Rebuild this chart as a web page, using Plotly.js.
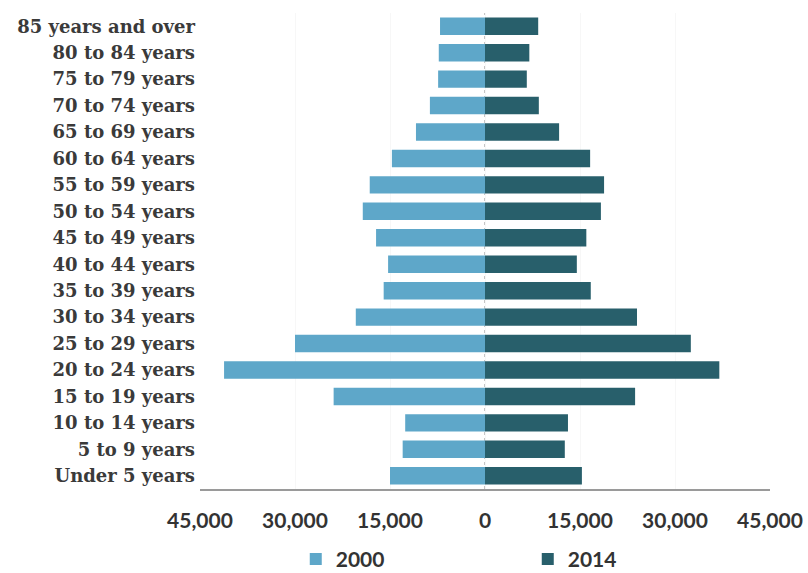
<!DOCTYPE html>
<html>
<head>
<meta charset="utf-8">
<script src="https://cdn.plot.ly/plotly-3.0.1.min.js"></script>
<style>
  html, body { margin: 0; padding: 0; background: #ffffff; }
  #chart { width: 808px; height: 573px; }
</style>
</head>
<body>
<div id="chart"></div>
<script>
// Age groups, oldest first (drawn top to bottom)
const ageGroups = [
  "85 years and over", "80 to 84 years", "75 to 79 years", "70 to 74 years",
  "65 to 69 years", "60 to 64 years", "55 to 59 years", "50 to 54 years",
  "45 to 49 years", "40 to 44 years", "35 to 39 years", "30 to 34 years",
  "25 to 29 years", "20 to 24 years", "15 to 19 years", "10 to 14 years",
  "5 to 9 years", "Under 5 years"
];

// Population by age group
const pop2000 = [
  7100, 7300, 7400, 8700, 10900, 14700, 18200, 19300, 17200,
  15300, 16000, 20400, 30000, 41200, 23900, 12600, 13000, 15000
];
const pop2014 = [
  8400, 7000, 6600, 8500, 11700, 16600, 18800, 18300, 16000,
  14500, 16700, 24000, 32500, 37000, 23700, 13100, 12600, 15300
];

// Axis ticks: the 2000 side runs to the left, labels show magnitudes
const tickValues = [-45000, -30000, -15000, 0, 15000, 30000, 45000];
const tickLabels = ["45,000", "30,000", "15,000", "0", "15,000", "30,000", "45,000"];

const sansFont = "Lato, 'Open Sans', sans-serif";

const traces = [
  {
    type: "bar",
    orientation: "h",
    name: "2000",
    y: ageGroups,
    x: pop2000.map(v => -v),
    customdata: pop2000,
    hovertemplate: "%{y}: %{customdata:,}<extra>2000</extra>",
    marker: { color: "#5ea7c9" }
  },
  {
    type: "bar",
    orientation: "h",
    name: "2014",
    y: ageGroups,
    x: pop2014,
    hovertemplate: "%{y}: %{x:,}<extra>2014</extra>",
    marker: { color: "#285f6b" }
  }
];

const layout = {
  width: 808,
  height: 573,
  paper_bgcolor: "#ffffff",
  plot_bgcolor: "#ffffff",
  margin: { l: 200, r: 38, t: 13, b: 84, autoexpand: false },
  barmode: "relative",
  bargap: 0.34,
  showlegend: true,
  legend: {
    orientation: "h",
    xref: "paper",
    x: 0.168,
    xanchor: "left",
    yref: "container",
    y: 0.024,
    yanchor: "middle",
    entrywidth: 187,
    itemwidth: 30,
    bgcolor: "rgba(0,0,0,0)",
    font: { family: sansFont, size: 21, weight: "bold", color: "#333333" }
  },
  xaxis: {
    range: [-45000, 45000],
    tickvals: tickValues,
    ticktext: tickLabels,
    showgrid: true,
    gridcolor: "#f7f7f7",
    gridwidth: 1,
    zeroline: false,
    showline: true,
    linecolor: "#9a9a9a",
    linewidth: 2,
    ticks: "",
    ticklabelstandoff: 12,
    tickfont: { family: sansFont, size: 21, weight: "bold", color: "#333333" },
    fixedrange: true
  },
  yaxis: {
    type: "category",
    autorange: "reversed",
    showgrid: false,
    zeroline: false,
    showline: false,
    ticks: "",
    ticklabelstandoff: 4,
    tickfont: { family: "'DejaVu Serif', serif", size: 18, weight: "bold", color: "#3a3a3a" },
    fixedrange: true
  },
  shapes: [
    {
      type: "line",
      xref: "x",
      yref: "paper",
      x0: 0, x1: 0, y0: 0, y1: 1,
      line: { color: "#8a8a8a", width: 1, dash: "dot" },
      layer: "below"
    }
  ]
};

Plotly.newPlot("chart", traces, layout, { displayModeBar: false, staticPlot: true });
</script>
</body>
</html>
